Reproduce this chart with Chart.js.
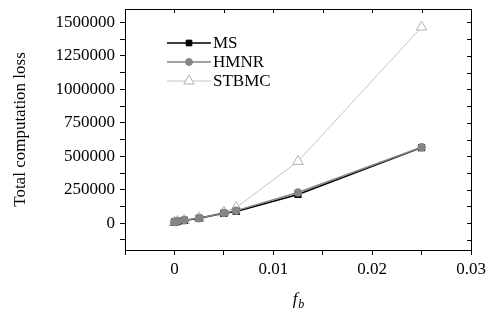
<!DOCTYPE html>
<html>
<head>
<meta charset="utf-8">
<script src="https://cdn.jsdelivr.net/npm/chart.js@4/dist/chart.umd.min.js"></script>
<style>
  html, body { margin: 0; padding: 0; background: #fff; }
  #wrap { width: 494px; height: 320px; }
</style>
</head>
<body>
<div id="wrap"><canvas id="chart" width="494" height="320"></canvas></div>
<script>
// data
const fbValues = [0, 0.0003, 0.001, 0.0025, 0.005, 0.00625, 0.0125, 0.025];
const msLoss = [8000, 14000, 21000, 37000, 74000, 88000, 215000, 565000];
const hmnrLoss = [9000, 15000, 22000, 38000, 76000, 94000, 230000, 568000];
const stbmcLoss = [6000, 13000, 22000, 40000, 82000, 118000, 462000, 1465000];
const seriesNames = ['MS', 'HMNR', 'STBMC'];
const yTicksMajor = [0, 250000, 500000, 750000, 1000000, 1250000, 1500000];
const xTicksMajor = [0, 0.01, 0.02, 0.03];

const serif = '"Liberation Serif", "Times New Roman", serif';

function points(ys) {
    return fbValues.map((x, i) => ({ x: x, y: ys[i] }));
}

// Function to draw the frame, mirrored ticks, legend and x title
const decorations = {
    id: 'decorations',
    afterDraw(chart) {
        const ctx = chart.ctx;
        const a = chart.chartArea;
        const xs = chart.scales.x;
        const ys = chart.scales.y;
        ctx.save();
        ctx.strokeStyle = '#000';
        ctx.lineWidth = 1;
        ctx.strokeRect(Math.round(a.left) + 0.5, Math.round(a.top) + 0.5,
            Math.round(a.right - a.left), Math.round(a.bottom - a.top));

        // inward ticks on top and right
        ctx.beginPath();
        for (let v = -0.005; v <= 0.03 + 1e-9; v += 0.005) {
            const px = Math.round(xs.getPixelForValue(v)) + 0.5;
            ctx.moveTo(px, a.top);
            ctx.lineTo(px, a.top + 4);
        }
        for (let v = -125000; v <= 1500000; v += 125000) {
            const py = Math.round(ys.getPixelForValue(v)) + 0.5;
            ctx.moveTo(a.right, py);
            ctx.lineTo(a.right - 4, py);
        }
        ctx.stroke();

        // legend
        const ds = chart.data.datasets;
        const rowsY = [43, 62, 81];
        for (let i = 0; i < seriesNames.length; i++) {
            const d = ds[i];
            const y = rowsY[i];
            ctx.strokeStyle = d.borderColor;
            ctx.lineWidth = d.borderWidth;
            ctx.beginPath();
            ctx.moveTo(167, y);
            ctx.lineTo(211, y);
            ctx.stroke();
            ctx.fillStyle = d.pointBackgroundColor;
            ctx.strokeStyle = d.pointBorderColor;
            ctx.lineWidth = 1;
            Chart.helpers.drawPoint(ctx, {
                pointStyle: d.pointStyle,
                radius: d.pointRadius,
                borderWidth: 1
            }, 189, y);
            ctx.fillStyle = '#000';
            ctx.font = '17px ' + serif;
            ctx.textBaseline = 'middle';
            ctx.textAlign = 'left';
            ctx.fillText(seriesNames[i], 213, y + 1);
        }

        // x title f_b
        ctx.fillStyle = '#000';
        ctx.textBaseline = 'alphabetic';
        ctx.font = 'italic 17px ' + serif;
        const cx = (a.left + a.right) / 2;
        const fw = ctx.measureText('f').width;
        ctx.font = 'italic 12px ' + serif;
        const bw = ctx.measureText('b').width;
        const start = cx - (fw + bw) / 2;
        ctx.font = 'italic 17px ' + serif;
        ctx.fillText('f', start, 304);
        ctx.font = 'italic 12px ' + serif;
        ctx.fillText('b', start + fw + 1, 308);
        ctx.restore();
    }
};

const ctx = document.getElementById('chart').getContext('2d');
new Chart(ctx, {
    type: 'line',
    data: {
        datasets: [
            {
                label: 'MS',
                data: points(msLoss),
                borderColor: '#000',
                borderWidth: 1.5,
                pointStyle: 'rect',
                pointRadius: 4,
                pointBackgroundColor: '#000',
                pointBorderColor: '#000',
                order: 2
            },
            {
                label: 'HMNR',
                data: points(hmnrLoss),
                borderColor: '#858585',
                borderWidth: 1.5,
                pointStyle: 'circle',
                pointRadius: 3.5,
                pointBackgroundColor: '#858585',
                pointBorderColor: '#858585',
                order: 1
            },
            {
                label: 'STBMC',
                data: points(stbmcLoss),
                borderColor: '#c4c4c4',
                borderWidth: 1,
                pointStyle: 'triangle',
                pointRadius: 6,
                pointBackgroundColor: '#fff',
                pointBorderColor: '#b0b0b0',
                order: 3
            }
        ]
    },
    options: {
        responsive: false,
        animation: false,
        layout: { padding: { top: 9, right: 23, left: 0, bottom: 0 } },
        plugins: {
            legend: { display: false },
            tooltip: { enabled: false }
        },
        scales: {
            x: {
                type: 'linear',
                min: -0.005,
                max: 0.03,
                afterBuildTicks(scale) {
                    const t = [];
                    for (let i = -1; i <= 6; i++) t.push({ value: i * 0.005 });
                    scale.ticks = t;
                },
                afterFit(scale) {
                    scale.height = 70;
                    scale.paddingLeft = 0;
                    scale.paddingRight = 0;
                },
                border: { display: false },
                grid: { drawOnChartArea: false, drawTicks: true, tickLength: 5, color: '#000' },
                ticks: {
                    color: '#000',
                    font: { family: serif, size: 17 },
                    padding: 4,
                    maxRotation: 0,
                    autoSkip: false,
                    callback(v) {
                        const m = xTicksMajor.find(t => Math.abs(t - v) < 1e-9);
                        return m === undefined ? '' : String(m);
                    }
                }
            },
            y: {
                type: 'linear',
                min: -200000,
                max: 1600000,
                afterBuildTicks(scale) {
                    const t = [];
                    for (let v = -125000; v <= 1500000; v += 125000) t.push({ value: v });
                    scale.ticks = t;
                },
                afterFit(scale) {
                    scale.width = 125;
                    scale.paddingTop = 0;
                    scale.paddingBottom = 0;
                },
                border: { display: false },
                grid: { drawOnChartArea: false, drawTicks: true, tickLength: 5, color: '#000' },
                title: {
                    display: true,
                    text: 'Total computation loss',
                    color: '#000',
                    font: { family: serif, size: 17 },
                    padding: { top: 10, bottom: 4 }
                },
                ticks: {
                    color: '#000',
                    font: { family: serif, size: 17 },
                    padding: 5,
                    autoSkip: false,
                    callback(v) {
                        return yTicksMajor.includes(v) ? String(v) : '';
                    }
                }
            }
        }
    },
    plugins: [decorations]
});
</script>
</body>
</html>
